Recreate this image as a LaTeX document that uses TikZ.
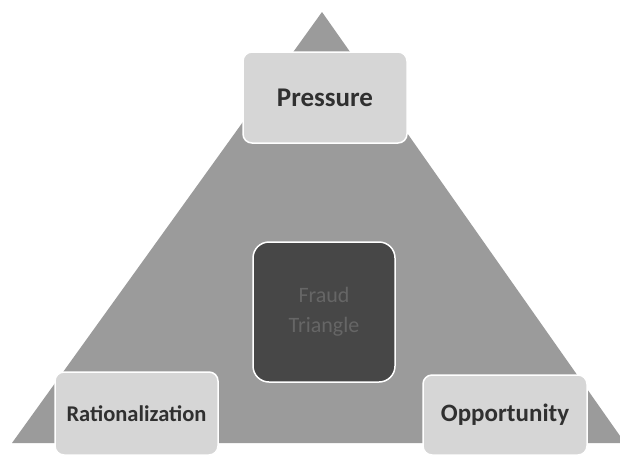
\documentclass[tikz,border=0pt]{standalone}
\usepackage{fontspec}
\setsansfont{Carlito}

\definecolor{trigray}{HTML}{9B9B9B}
\definecolor{boxgray}{HTML}{D6D6D6}
\definecolor{darkbox}{HTML}{474747}
\definecolor{labelgray}{HTML}{303030}
\definecolor{fadegray}{HTML}{666666}

\tikzset{
  corner/.style={draw=white, line width=1.5pt, fill=boxgray, rounded corners=9pt,
    font=\sffamily\bfseries\fontsize{25}{28}\selectfont, text=labelgray},
}

\begin{document}
\begin{tikzpicture}[x=1pt,y=-1pt]
            \useasboundingbox (0,0) rectangle (620,461);
            \fill[white] (0,0) rectangle (620,461);
            \fill[trigray] (322,12) -- (12,443) -- (625,443) -- cycle;
            \node[corner, minimum width=164pt, minimum height=91pt,
                  font=\sffamily\bfseries\fontsize{27}{30}\selectfont] (pressure) at (325,97.5) {Pressure};
            \node[corner, minimum width=163pt, minimum height=83pt,
                  font=\sffamily\bfseries\fontsize{22.5}{26}\selectfont] (rational) at (136.5,413.5) {Rationalization};
            \node[corner, minimum width=164pt, minimum height=80pt] (opportunity) at (505,415) {Opportunity};
            \node[draw=white, line width=1.5pt, fill=darkbox, rounded corners=16pt,
                  minimum width=142pt, minimum height=140pt, align=center,
                  font=\sffamily\fontsize{22}{30}\selectfont, text=fadegray] (fraud) at (324,312) {Fraud\\Triangle};
        \end{tikzpicture}
\end{document}
